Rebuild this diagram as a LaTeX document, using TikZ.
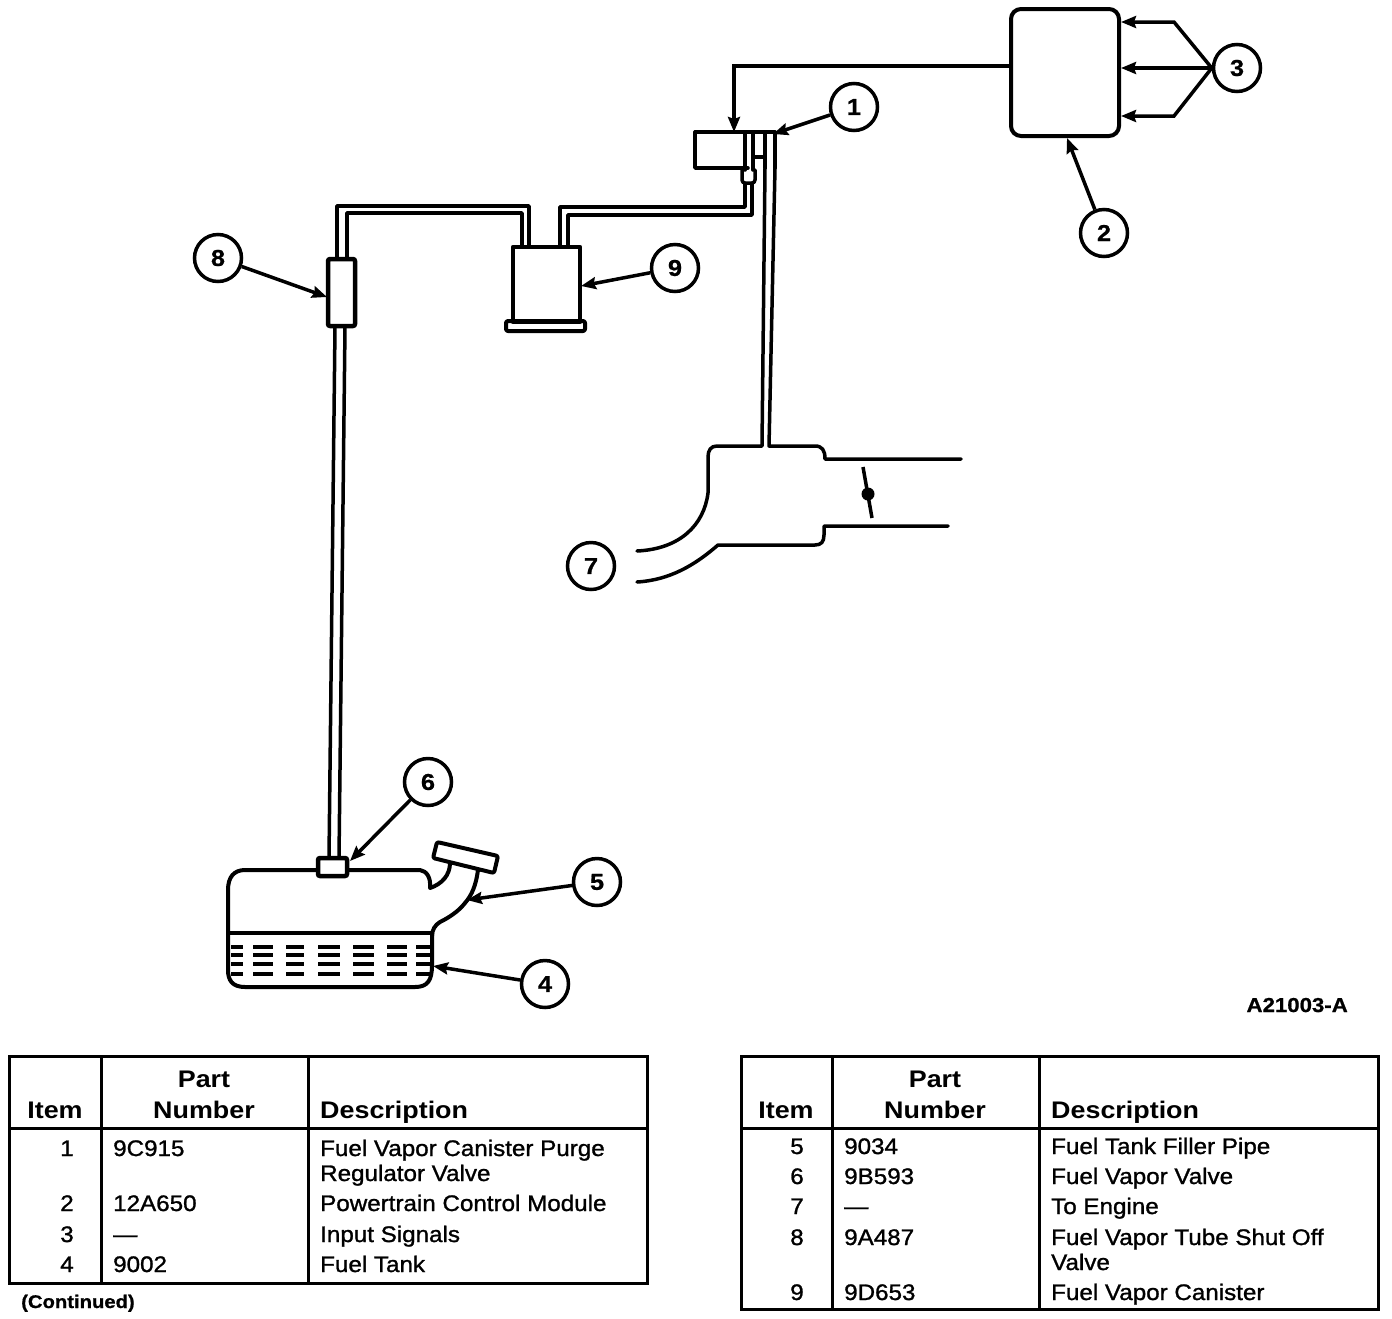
\documentclass[tikz,border=0pt]{standalone}
\usepackage{fontspec}
\setmainfont{Liberation Sans}
\newfontfamily\bodyfont[FakeStretch=1.075,FakeBold=1.2]{Liberation Sans}
\newfontfamily\headfont[FakeStretch=1.12,BoldFont={Liberation Sans Bold}]{Liberation Sans}
\newfontfamily\notefont[FakeStretch=1.1,FakeBold=0.8]{Liberation Sans Bold}
\usetikzlibrary{arrows.meta}
\tikzset{
 x=1pt,y=-1pt,
 pipe/.style={line width=3.5pt,line join=round,line cap=round},
 frame/.style={line width=3pt,line join=miter},
 lead/.style={line width=3.5pt,-{Stealth[length=15pt,width=12pt,inset=2pt]}},
 callout/.style={circle,draw,line width=3.5pt,minimum size=47pt,inner sep=0pt,fill=white,font=\fontsize{23}{23}\notefont},
 cell/.style={inner sep=0pt,anchor=base west,font=\fontsize{22.5}{22.5}\bodyfont},
 numcell/.style={inner sep=0pt,anchor=base,font=\fontsize{22.5}{22.5}\bodyfont},
 head/.style={inner sep=0pt,anchor=base,font=\fontsize{24}{24}\headfont\bfseries},
 headw/.style={inner sep=0pt,anchor=base west,font=\fontsize{24}{24}\headfont\bfseries},
 note/.style={inner sep=0pt,font=\fontsize{18.4}{18.4}\notefont},
 codenote/.style={inner sep=0pt,font=\fontsize{20.2}{20.2}\notefont},
}
\begin{document}
\begin{tikzpicture}
\useasboundingbox (0,0) rectangle (1392,1318);
% module and input signals
\node[draw,line width=4pt,rounded corners=10pt,minimum width=108pt,minimum height=127pt,inner sep=0pt] (pcm) at (1065,72.5) {};
\node[callout] (c3) at (1237,68) {3};
\node[callout] (c2) at (1104,233) {2};
\node[callout] (c1) at (854,107) {1};
\node[callout] (c9) at (675,268) {9};
\node[callout] (c8) at (218,258) {8};
\node[callout] (c7) at (591,566) {7};
\node[callout] (c6) at (428,782) {6};
\node[callout] (c5) at (597,882) {5};
\node[callout] (c4) at (545,984) {4};
\coordinate (s1) at (1121,22);
\coordinate (s2) at (1121,68);
\coordinate (s3) at (1121,116);
\draw[lead] (c3.west) -- (1174,22) -- (s1);
\draw[lead] (c3.west) -- (s2);
\draw[lead] (c3.west) -- (1174,116) -- (s3);
\coordinate (vtop) at (734,132);
\draw[lead] (pcm.west |- 0,66) -- (734,66) -- (vtop);
% purge valve
\draw[pipe] (748,132) -- (695,132) -- (695,168) -- (748,168);
\draw[pipe] (695,132) -- (775,132);
\draw[pipe] (745,132) -- (745,170);
\draw[pipe] (753,132) -- (753,170);
\draw[pipe] (765,132) -- (765,168);
\draw[pipe] (775,132) -- (775,168);
\draw[pipe] (753,157) -- (765,157);
\draw[pipe,rounded corners=3pt] (742,170) -- (742,183) -- (755,183) -- (755,170);
\coordinate (v1) at (773,134);
\draw[lead] (c1) -- (v1);
% vapour tubes
\draw[pipe] (745,184) -- (745,207) -- (560,207) -- (560,247);
\draw[pipe] (752,184) -- (752,215) -- (568,215) -- (568,247);
\draw[pipe] (337,258) -- (337,206) -- (529,206) -- (529,247);
\draw[pipe] (347,258) -- (347,213) -- (522,213) -- (522,247);
% canister
\draw[line width=4.5pt,line join=round] (513,247) rectangle (580,322);
\draw[line width=4pt,line join=round,rounded corners=2pt] (506,321) rectangle (585,331);
\coordinate (can) at (581,286);
\draw[lead] (c9) -- (can);
% shut off valve
\draw[line width=4.5pt,line join=round,rounded corners=2pt] (328,259) rectangle (355,326);
\coordinate (sov) at (327,297);
\draw[lead] (c8) -- (sov);
\draw[pipe] (335,327) -- (329,858);
\draw[pipe] (345,327) -- (339,858);
% tank
\draw[pipe,line width=4pt] (432,933) -- (432,965) .. controls (432,980) and (428,987) .. (415,987) -- (245,987) .. controls (232,987) and (228,980) .. (228,970) -- (228,890) .. controls (228,877) and (234,870) .. (245,870) -- (420,870) .. controls (427,871) and (431,878) .. (430,888) .. controls (442,884) and (450,875) .. (450,863);
\draw[pipe,line width=4pt] (228,933) -- (432,933);
\draw[pipe,line width=4pt] (478,870) .. controls (476,885) and (472,895) .. (465,903) .. controls (458,912) and (448,918) .. (440,922) .. controls (435,925) and (432,930) .. (432,936);
\draw[line width=4pt,line join=round,rounded corners=2pt,fill=white] (437,842) -- (498,856) -- (494,873) -- (433,858) -- cycle;
\foreach \yy in {947,955,964,974}{
 \foreach \xa/\xb in {231/243,253/273,286/304,318/340,353/374,387/407,416/430}{
  \draw[line width=3.5pt] (\xa,\yy) -- (\xb,\yy);
 }
}
\draw[line width=4.5pt,fill=white,rounded corners=2pt] (318,858) rectangle (347,876);
\coordinate (vv) at (350,861);
\draw[lead] (c6) -- (vv);
\coordinate (fp) at (467,900);
\draw[lead] (c5) -- (fp);
\coordinate (tk) at (433,966);
\draw[lead] (c4) -- (tk);
\coordinate (mod) at (1067,138);
\draw[lead] (c2) -- (mod);
% throttle body
\draw[pipe] (765,168) -- (762,446) -- (717,446) .. controls (711,446) and (708,450) .. (708,457) -- (708,493) .. controls (704,525) and (680,549) .. (637,551);
\draw[pipe] (775,168) -- (769,446) -- (815,446) .. controls (822,446) and (825,450) .. (825,459) -- (961,459);
\draw[pipe] (637,582) .. controls (670,580) and (695,565) .. (718,545) -- (815,545) .. controls (821,545) and (824,542) .. (824,535) -- (824,526) -- (948,526);
\draw[line width=3.5pt] (863,467) -- (872,518);
\fill (868,494) circle (6.5pt);
% tables
\draw[frame] (9,1056) rectangle (647,1283);
\draw[frame] (101,1056) -- (101,1283) (308,1056) -- (308,1283) (9,1128) -- (647,1128);
\draw[frame] (741,1056) rectangle (1378,1309);
\draw[frame] (832,1056) -- (832,1309) (1039,1056) -- (1039,1309) (741,1128) -- (1378,1128);
% left table text
\node[head] (lh1) at (55,1118) {Item};
\node[head] (lh2) at (204,1087) {Part};
\node[head] (lh3) at (204,1118) {Number};
\node[headw] (lh4) at (320,1118) {Description};
\node[numcell] (la1) at (67,1156) {1};
\node[cell] (lb1) at (113,1156) {9C915};
\node[cell] (lc1) at (320,1156) {Fuel Vapor Canister Purge};
\node[cell] (lc1b) at (320,1181) {Regulator Valve};
\node[numcell] (la2) at (67,1211) {2};
\node[cell] (lb2) at (113,1211) {12A650};
\node[cell] (lc2) at (320,1211) {Powertrain Control Module};
\node[numcell] (la3) at (67,1242) {3};
\node[cell] (lb3) at (113,1242) {—};
\node[cell] (lc3) at (320,1242) {Input Signals};
\node[numcell] (la4) at (67,1272) {4};
\node[cell] (lb4) at (113,1272) {9002};
\node[cell] (lc4) at (320,1272) {Fuel Tank};
\node[note,anchor=base west] (cont) at (21,1308) {(Continued)};
\node[codenote,anchor=base east] (code) at (1348,1012) {A21003-A};
% right table text
\node[head] (rh1) at (786,1118) {Item};
\node[head] (rh2) at (935,1087) {Part};
\node[head] (rh3) at (935,1118) {Number};
\node[headw] (rh4) at (1051,1118) {Description};
\node[numcell] (ra1) at (797,1154) {5};
\node[cell] (rb1) at (844,1154) {9034};
\node[cell] (rc1) at (1051,1154) {Fuel Tank Filler Pipe};
\node[numcell] (ra2) at (797,1184) {6};
\node[cell] (rb2) at (844,1184) {9B593};
\node[cell] (rc2) at (1051,1184) {Fuel Vapor Valve};
\node[numcell] (ra3) at (797,1214) {7};
\node[cell] (rb3) at (844,1214) {—};
\node[cell] (rc3) at (1051,1214) {To Engine};
\node[numcell] (ra4) at (797,1245) {8};
\node[cell] (rb4) at (844,1245) {9A487};
\node[cell] (rc4) at (1051,1245) {Fuel Vapor Tube Shut Off};
\node[cell] (rc4b) at (1051,1270) {Valve};
\node[numcell] (ra5) at (797,1300) {9};
\node[cell] (rb5) at (844,1300) {9D653};
\node[cell] (rc5) at (1051,1300) {Fuel Vapor Canister};
\end{tikzpicture}
\end{document}
